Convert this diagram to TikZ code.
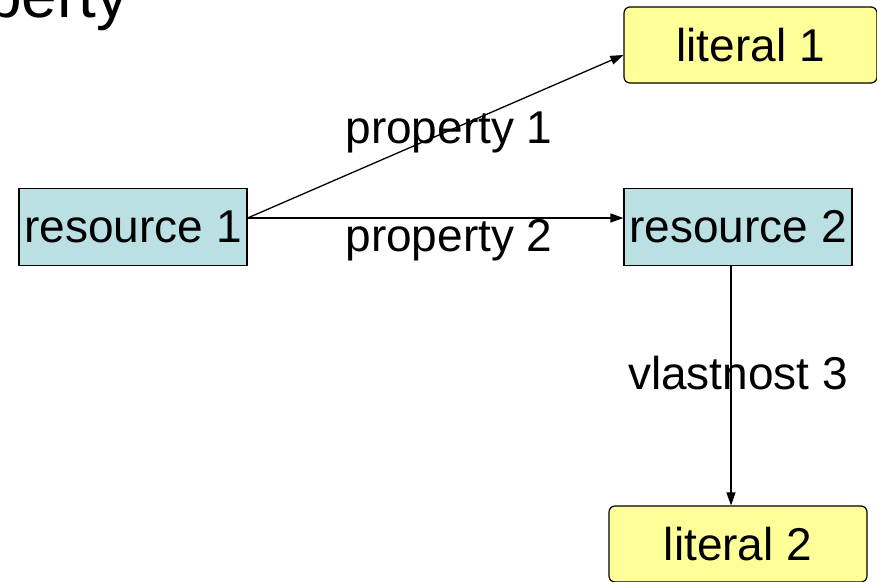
\documentclass[tikz,border=0pt]{standalone}
\usepackage{fontspec}
\setmainfont{Liberation Sans}
\usetikzlibrary{arrows.meta}
\definecolor{resfill}{HTML}{BAE0E3}
\definecolor{litfill}{HTML}{FFFF99}
\begin{document}
\begin{tikzpicture}[x=1pt,y=-1pt,
  txt/.style={font=\fontsize{46}{50}\selectfont, inner sep=0pt},
  resbox/.style={txt, draw=black, line width=1.2pt, fill=resfill, minimum width=228pt, minimum height=77pt},
  litbox/.style={txt, draw=black, line width=1.2pt, fill=litfill, rounded corners=6pt, minimum height=76pt},
  conn/.style={line width=1.3pt, -{Triangle[length=13pt,width=9pt]}}
]
\useasboundingbox (0,0) rectangle (877,581);
\node[font=\fontsize{64}{66}\selectfont, inner sep=0pt, anchor=base west] (head) at (-14,17) {perty};
\node[resbox] (r1) at (133,227) {resource 1};
\node[resbox] (r2) at (738,227) {resource 2};
\node[litbox, minimum width=253pt] (l1) at (750.5,45) {literal 1};
\node[litbox, minimum width=258pt] (l2) at (738,544) {literal 2};
\draw[conn] ([yshift=9pt]r1.east) -- ([yshift=-10pt]l1.west);
\draw[conn] ([yshift=9pt]r1.east) -- ([yshift=9pt]r2.west);
\draw[conn] ([xshift=-7pt]r2.south) -- ([xshift=-7pt]l2.north);
\node[txt] (p1) at (449,132) {property 1};
\node[txt] (p2) at (449,240) {property 2};
\node[txt] (p3) at (738,373) {vlastnost 3};
\end{tikzpicture}
\end{document}
